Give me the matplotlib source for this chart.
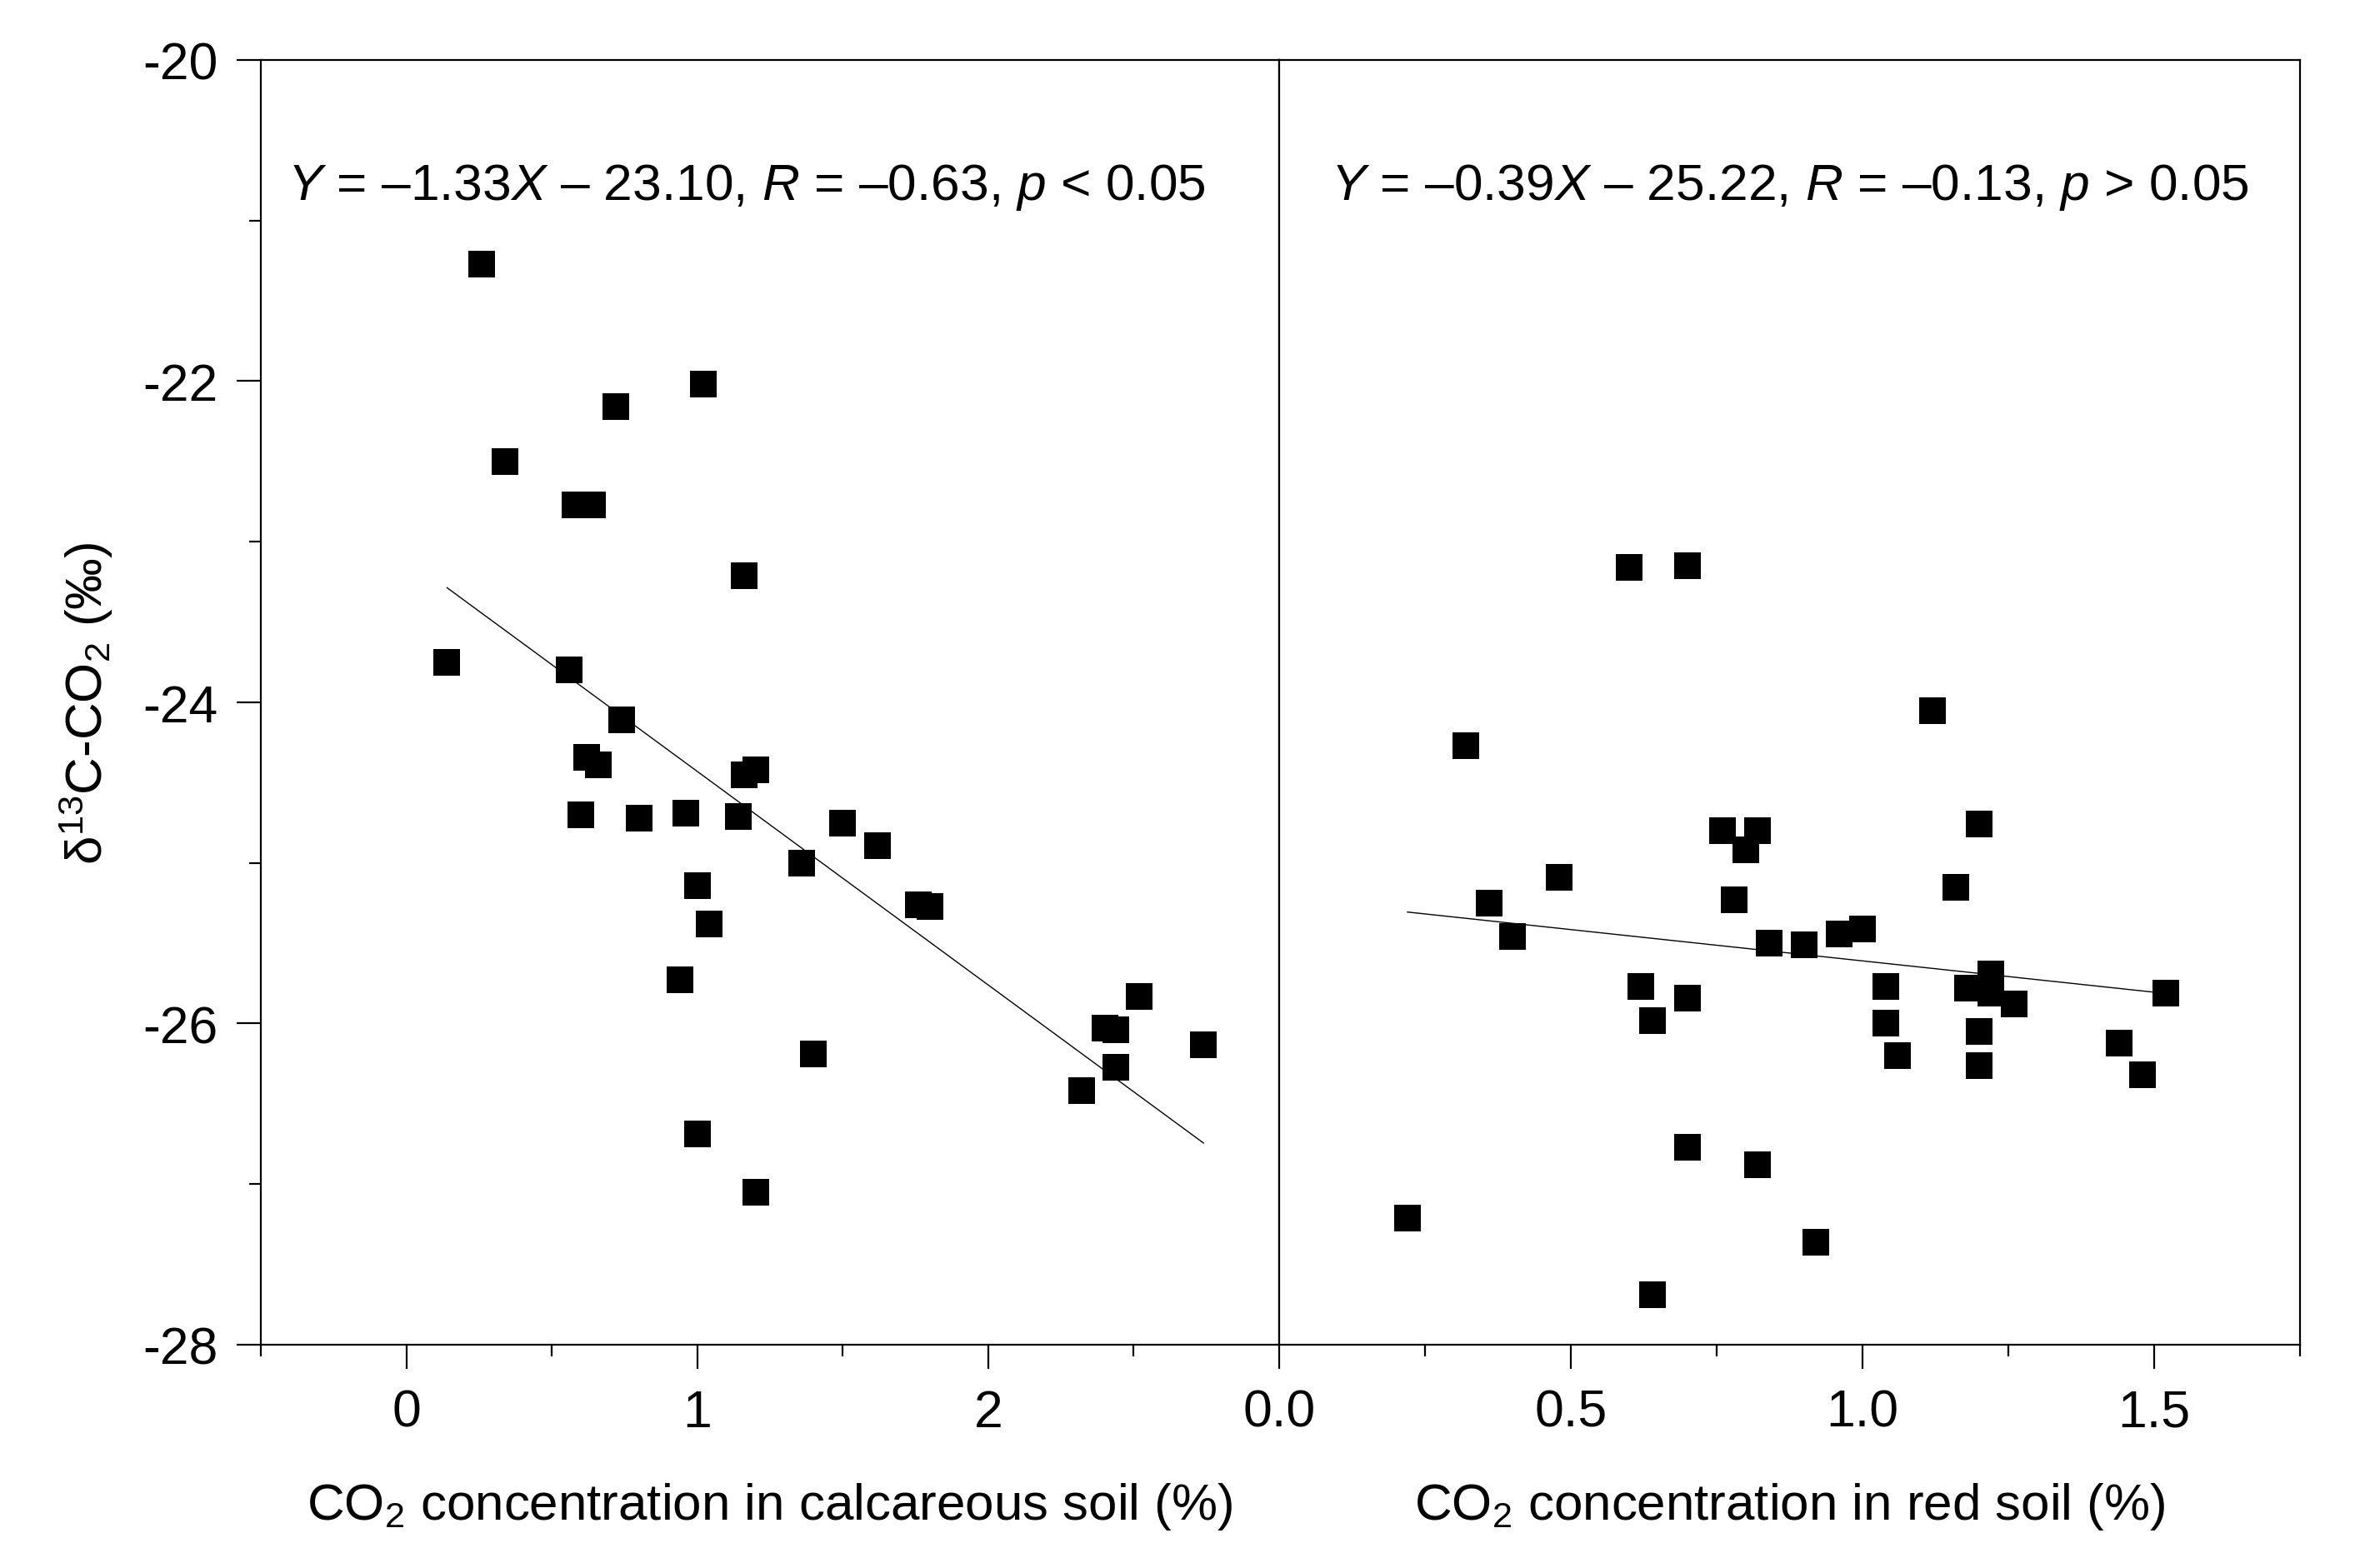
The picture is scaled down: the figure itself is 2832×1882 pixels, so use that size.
import matplotlib
matplotlib.use("Agg")
import matplotlib.pyplot as plt
import numpy as np
from matplotlib.ticker import MultipleLocator, FixedLocator, FormatStrFormatter

# calcareous soil: CO2 (%) vs d13C-CO2 (permil)
calc_x = [0.26, 1.02, 0.72, 0.34, 0.58, 0.64, 1.16, 0.14, 0.56, 0.74,
          0.62, 0.66, 1.20, 1.16, 0.60, 0.80, 0.96, 1.14, 1.50, 1.62,
          1.36, 1.76, 1.80, 1.00, 1.04, 0.94, 2.52, 2.40, 2.44, 2.74,
          1.40, 2.44, 2.32, 1.00, 1.20]
calc_y = [-21.27, -22.02, -22.16, -22.50, -22.77, -22.77, -23.21, -23.75, -23.80, -24.11,
          -24.34, -24.39, -24.42, -24.45, -24.70, -24.72, -24.69, -24.71, -24.75, -24.89,
          -25.00, -25.26, -25.27, -25.14, -25.38, -25.73, -25.83, -26.03, -26.04, -26.13,
          -26.19, -26.27, -26.42, -26.69, -27.05]

# red soil
red_x = [0.60, 0.70, 1.12, 0.32, 1.20, 0.76, 0.82, 0.80, 0.48, 0.36,
         1.16, 0.78, 0.40, 1.00, 0.96, 0.84, 0.90, 1.22, 1.18, 1.22,
         1.26, 1.04, 0.62, 0.70, 0.64, 1.04, 1.20, 1.52, 1.44, 1.06,
         1.20, 1.48, 0.70, 0.82, 0.22, 0.92, 0.64]
red_y = [-23.16, -23.15, -24.05, -24.27, -24.76, -24.80, -24.80, -24.92, -25.09, -25.25,
         -25.15, -25.23, -25.46, -25.41, -25.44, -25.50, -25.51, -25.69, -25.78, -25.81,
         -25.88, -25.77, -25.77, -25.84, -25.98, -26.00, -26.05, -25.81, -26.12, -26.20,
         -26.26, -26.32, -26.77, -26.88, -27.21, -27.36, -27.69]

# linear fits given on the figure
calc_fit = (-1.33, -23.10)
red_fit = (-0.39, -25.22)
calc_text = r"$Y$ = –1.33$X$ – 23.10, $R$ = –0.63, $p$ < 0.05"
red_text = r"$Y$ = –0.39$X$ – 25.22, $R$ = –0.13, $p$ > 0.05"

calc_major = [0, 1, 2]
calc_minor = [-0.5, 0.5, 1.5, 2.5]

plt.rcParams['font.family'] = ['Liberation Sans', 'DejaVu Sans']
plt.rcParams['mathtext.fontset'] = 'custom'
plt.rcParams['mathtext.rm'] = 'Liberation Sans'
plt.rcParams['mathtext.it'] = 'Liberation Sans:italic'
plt.rcParams['axes.unicode_minus'] = False

fig = plt.figure(figsize=(14.16, 9.415), dpi=200)
ax1 = fig.add_axes([0.11052, 0.14233, 0.43150, 0.81891])
ax2 = fig.add_axes([0.54202, 0.14233, 0.43256, 0.81891], sharey=ax1)

tick_fs = 22.5
label_fs = 22.3

for ax, xs, ys, fit, txt, tx in [(ax1, calc_x, calc_y, calc_fit, calc_text, 0.477),
                                 (ax2, red_x, red_y, red_fit, red_text, 0.500)]:
    ax.plot(xs, ys, 's', color='black', ms=11.2, mew=0)
    xl = np.array([min(xs), max(xs)])
    ax.plot(xl, fit[0] * xl + fit[1], color='black', lw=0.5)
    ax.text(tx, 0.892, txt, transform=ax.transAxes, ha='center', va='baseline',
            fontsize=22.4)
    for s in ax.spines.values():
        s.set_linewidth(0.8)
    ax.tick_params(which='both', direction='out', width=0.8, labelsize=tick_fs)
    ax.tick_params(which='major', length=10.3, pad=8.3)
    ax.tick_params(which='minor', length=5.2)

ax1.set_xlim(-0.5, 3.0)
ax1.xaxis.set_major_locator(FixedLocator(calc_major))
ax1.xaxis.set_minor_locator(FixedLocator(calc_minor))
ax1.set_ylim(-28, -20)
ax1.yaxis.set_major_locator(MultipleLocator(2))
ax1.yaxis.set_minor_locator(MultipleLocator(1))

ax2.set_xlim(0, 1.75)
ax2.xaxis.set_major_locator(MultipleLocator(0.5))
ax2.xaxis.set_minor_locator(MultipleLocator(0.25))
ax2.xaxis.set_major_formatter(FormatStrFormatter('%.1f'))
ax2.tick_params(axis='y', which='both', left=False, labelleft=False)

ax1.set_xlabel(r"CO$_2$ concentration in calcareous soil (%)", fontsize=label_fs, labelpad=19)
ax2.set_xlabel(r"CO$_2$ concentration in red soil (%)", fontsize=label_fs, labelpad=19)
ax1.set_ylabel(r"δ$^{13}$C-CO$_2$ (‰)", fontsize=label_fs)
ax1.yaxis.set_label_coords(-0.143, 0.5)

fig.savefig("out.png", dpi=200)
